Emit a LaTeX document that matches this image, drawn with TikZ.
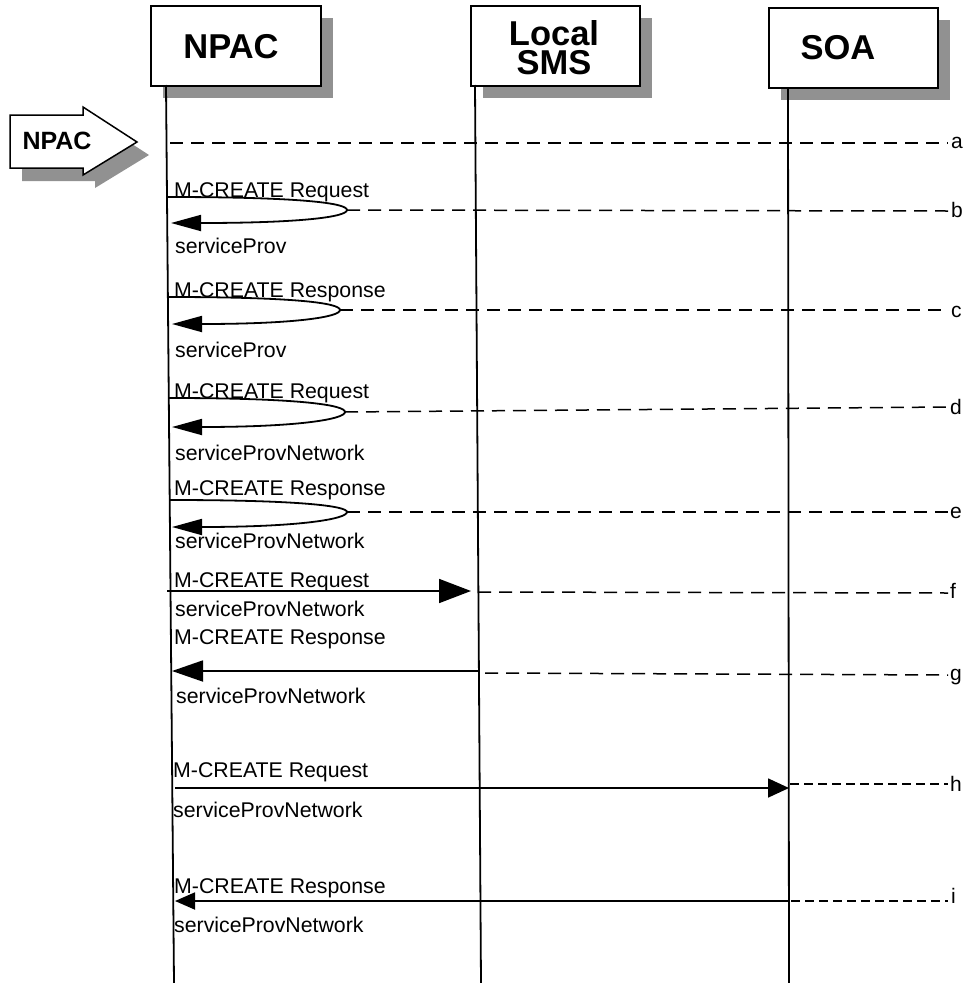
\documentclass[tikz,border=0pt]{standalone}
\usepackage{fontspec}
\setmainfont{Liberation Sans}
\usetikzlibrary{arrows.meta,shadows}
\definecolor{shadowgray}{RGB}{145,145,145}
\begin{document}
\begin{tikzpicture}[x=1pt,y=-1pt,
  objbox/.style={draw=black,line width=1.5pt,fill=white,inner sep=0pt,anchor=north west,
     drop shadow={shadow xshift=12pt,shadow yshift=-12pt,fill=shadowgray,opacity=1}},
  objtext/.style={font=\bfseries\fontsize{34.5}{31}\selectfont,inner sep=0pt},
  life/.style={line width=1.8pt},
  msg/.style={line width=1.8pt},
  dline/.style={line width=1.5pt,dash pattern=on 13pt off 8pt},
  dlineb/.style={line width=1.5pt,dash pattern=on 9pt off 5pt},
  lbl/.style={anchor=base west,inner sep=0pt,font=\fontsize{21.3}{24}\selectfont},
  tag/.style={anchor=base west,inner sep=0pt,font=\fontsize{21}{24}\selectfont},
  bighead/.style={-{Triangle[length=32pt,width=24pt]}},
  selfhead/.style={-{Triangle[length=30pt,width=16pt]}},
  smallhead/.style={-{Triangle[length=21pt,width=19pt]}}
]
\useasboundingbox (0,0) rectangle (965,983);

% object boxes
\node[objbox,minimum width=170pt,minimum height=80pt] (npacbox) at (150,5) {};
\node[objbox,minimum width=169pt,minimum height=80pt] (smsbox) at (470,5) {};
\node[objbox,minimum width=169pt,minimum height=80pt] (soabox) at (768,7) {};
\node[objtext,anchor=base] (npactxt) at (231,58) {NPAC};
\node[objtext,anchor=base] (smstxt1) at (554,45) {Local};
\node[objtext,anchor=base] (smstxt2) at (554,74) {SMS};
\node[objtext,anchor=base] (soatxt) at (838,59) {SOA};

% lifelines
\coordinate (nT) at (166,85);  \coordinate (nB) at (174,983);
\coordinate (lT) at (475,85);  \coordinate (lB) at (481,983);
\coordinate (sT) at (788,87);  \coordinate (sB) at (789,983);
\draw[life] (nT) -- (nB);
\draw[life] (lT) -- (lB);
\draw[life] (sT) -- (sB);

% NPAC block arrow
\fill[shadowgray] (22,128) -- (95,128) -- (95,120) -- (149,155) -- (95,188) -- (95,181) -- (22,181) -- cycle;
\draw[line width=1.5pt,fill=white] (10,115) -- (83,115) -- (83,107) -- (137,142) -- (83,175) -- (83,168) -- (10,168) -- cycle;
\node[font=\bfseries\fontsize{25}{26}\selectfont,inner sep=0pt] (npacarrow) at (57,141) {NPAC};

% a
\coordinate (a1) at (170,143); \coordinate (a2) at (948,143);
\draw[dline] (a1) -- (a2);
\node[tag] (ta) at (951,148) {a};

% b
\coordinate (b1) at (167,197); \coordinate (b2) at (347,210); \coordinate (b3) at (171,223);
\coordinate (b4) at (948,211);
\draw[msg,selfhead] (b1) .. controls (300,197) and (347,203) .. (b2) .. controls (347,217) and (300,223) .. (b3);
\draw[dline] (b2) -- (b4);
\node[tag] (tb) at (951,217) {b};
\node[lbl] (lb1) at (174,197) {M-CREATE Request};
\node[lbl] (lb2) at (175,253) {serviceProv};

% c
\coordinate (c1) at (168,297); \coordinate (c2) at (340,310); \coordinate (c3) at (172,324);
\coordinate (c4) at (948,310);
\draw[msg,selfhead] (c1) .. controls (295,297) and (340,303) .. (c2) .. controls (340,317) and (295,324) .. (c3);
\draw[dline] (c2) -- (c4);
\node[tag] (tc) at (951,317) {c};
\node[lbl] (lc1) at (174,297) {M-CREATE Response};
\node[lbl] (lc2) at (175,357) {serviceProv};

% d
\coordinate (d1) at (169,398); \coordinate (d2) at (345,412); \coordinate (d3) at (172,427);
\coordinate (d4) at (948,407);
\draw[msg,selfhead] (d1) .. controls (300,398) and (345,405) .. (d2) .. controls (345,419) and (300,427) .. (d3);
\draw[dline] (d2) -- (d4);
\node[tag] (td) at (950,414) {d};
\node[lbl] (ld1) at (174,398) {M-CREATE Request};
\node[lbl] (ld2) at (175,460) {serviceProvNetwork};

% e
\coordinate (e1) at (170,500); \coordinate (e2) at (347,512); \coordinate (e3) at (172,527);
\coordinate (e4) at (948,512);
\draw[msg,selfhead] (e1) .. controls (300,500) and (347,506) .. (e2) .. controls (347,519) and (300,527) .. (e3);
\draw[dline] (e2) -- (e4);
\node[tag] (te) at (950,518) {e};
\node[lbl] (le1) at (174,495) {M-CREATE Response};
\node[lbl] (le2) at (175,548) {serviceProvNetwork};

% f
\coordinate (f1) at (167,591); \coordinate (f2) at (471,591);
\coordinate (f3) at (478,592); \coordinate (f4) at (948,593);
\draw[msg,bighead] (f1) -- (f2);
\draw[dline] (f3) -- (f4);
\node[tag] (tf) at (950,598) {f};
\node[lbl] (lf1) at (174,587) {M-CREATE Request};
\node[lbl] (lf2) at (175,616) {serviceProvNetwork};

% g
\coordinate (g1) at (478,671); \coordinate (g2) at (172,671);
\coordinate (g3) at (485,673); \coordinate (g4) at (948,675);
\draw[msg,-{Triangle[length=31pt,width=21pt]}] (g1) -- (g2);
\draw[dline] (g3) -- (g4);
\node[tag] (tg) at (950,680) {g};
\node[lbl] (lg1) at (174,644) {M-CREATE Response};
\node[lbl] (lg2) at (176,703) {serviceProvNetwork};

% h
\coordinate (h1) at (175,788); \coordinate (h2) at (789,788);
\coordinate (h3) at (790,784); \coordinate (h4) at (948,784);
\draw[msg,smallhead] (h1) -- (h2);
\draw[dlineb] (h3) -- (h4);
\node[tag] (th) at (950,791) {h};
\node[lbl] (lh1) at (173,777) {M-CREATE Request};
\node[lbl] (lh2) at (173,817) {serviceProvNetwork};

% i
\coordinate (i1) at (788,901); \coordinate (i2) at (175,901);
\coordinate (i3) at (777,901); \coordinate (i4) at (948,901);
\draw[msg,-{Triangle[length=20pt,width=17pt]}] (i1) -- (i2);
\draw[dlineb] (i3) -- (i4);
\node[tag] (ti) at (951,903) {i};
\node[lbl] (li1) at (174,893) {M-CREATE Response};
\node[lbl] (li2) at (174,932) {serviceProvNetwork};
\end{tikzpicture}
\end{document}
